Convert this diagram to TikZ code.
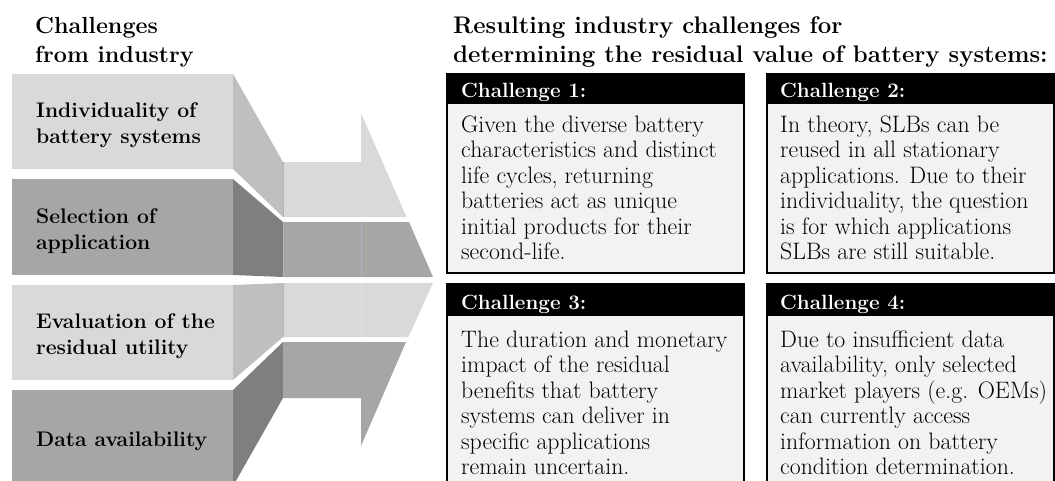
\documentclass[tikz,border=0pt]{standalone}
\usepackage{xcolor}
\definecolor{lightF}{HTML}{D9D9D9}
\definecolor{lightS}{HTML}{BFBFBF}
\definecolor{darkF}{HTML}{A6A6A6}
\definecolor{darkS}{HTML}{7F7F7F}
\definecolor{bodyF}{HTML}{F2F2F2}
\definecolor{seam}{HTML}{A9B6C4}
\begin{document}
\begin{tikzpicture}[x=1pt,y=-1pt,
  lab/.style={anchor=north west,inner sep=0pt,align=left,font=\fontsize{21.1}{26}\selectfont\bfseries},
  head/.style={anchor=north west,inner sep=0pt,align=left,font=\fontsize{23.3}{29}\selectfont\bfseries},
  chead/.style={anchor=north west,inner sep=0pt,text=white,font=\fontsize{20.6}{24}\selectfont\bfseries},
  cbody/.style={anchor=north west,inner sep=0pt,align=left,font=\fontsize{23.8}{25.5}\selectfont},
  bar/.style={fill=black},
  panel/.style={draw=black,line width=2.2pt,fill=bodyF},
  seamline/.style={draw=seam,line width=0.5pt}]
\useasboundingbox (0,0) rectangle (1055,480);
\begin{scope}
\clip (0,0) rectangle (1055,480);
% front faces
\fill[lightF] (12,74) rectangle (233,169);
\fill[darkF] (12,179) rectangle (233,275);
\fill[lightF] (12,285) rectangle (233,380);
\fill[darkF] (12,390) rectangle (233,486);
% side faces
\fill[lightS] (233,74) -- (283,162) -- (283,217) -- (233,169) -- cycle;
\fill[darkS] (233,179) -- (283,222) -- (283,277) -- (233,275) -- cycle;
\fill[lightS] (233,285) -- (283,283) -- (283,337) -- (233,380) -- cycle;
\fill[darkS] (233,390) -- (283,342) -- (283,398) -- (233,486) -- cycle;
% arrow strips
\fill[lightF] (283,162) -- (361,162) -- (361,113) -- (406.5,217) -- (283,217) -- cycle;
\fill[darkF] (283,222) -- (409,222) -- (433,277) -- (283,277) -- cycle;
\fill[lightF] (283,283) -- (433,283) -- (408.5,337) -- (283,337) -- cycle;
\fill[darkF] (283,342) -- (406,342) -- (361,446) -- (361,398) -- (283,398) -- cycle;
\draw[seamline] (361,222) -- (361,277);
\draw[seamline,draw=seam!40] (361,283) -- (361,337);
\draw[seamline] (283,162) -- (283,217);
\draw[seamline] (283,222) -- (283,277);
\draw[seamline] (283,283) -- (283,337);
% challenge panels
\fill[bar] (446,73) rectangle (745,103);
\draw[panel] (447.1,103) rectangle (743.9,273);
\fill[bar] (766,73) rectangle (1055,103);
\draw[panel] (767.1,103) rectangle (1053.9,273);
\fill[bar] (446,283) rectangle (745,315);
\draw[panel] (447.1,315) rectangle (743.9,500);
\fill[bar] (766,283) rectangle (1055,315);
\draw[panel] (767.1,315) rectangle (1053.9,500);
\end{scope}
% titles
\node[head] (t1) at (35,16.8) {Challenges\\from industry};
\node[head,font=\fontsize{24}{29}\selectfont\bfseries] (t2) at (453,16.4) {Resulting industry challenges for\\determining the residual value of battery systems:};
% left labels
\node[lab] (l1) at (36,102.4) {Individuality of\\battery systems};
\node[lab] (l2) at (36,208.7) {Selection of\\application};
\node[lab] (l3) at (36,313.7) {Evaluation of the\\residual utility};
\node[lab] (l4) at (36,431.4) {Data availability};
% challenge headers
\node[chead] (h1) at (461,82.7) {Challenge 1:};
\node[chead] (h2) at (780,82.7) {Challenge 2:};
\node[chead] (h3) at (461,294.7) {Challenge 3:};
\node[chead] (h4) at (780,294.7) {Challenge 4:};
% challenge bodies
\node[cbody] (b1) at (461,115.5) {Given the diverse battery\\characteristics and distinct\\life cycles, returning\\batteries act as unique\\initial products for their\\second-life.};
\node[cbody] (b2) at (780,115.5) {In theory, SLBs can be\\reused in all stationary\\applications. Due to their\\individuality, the question\\is for which applications\\SLBs are still suitable.};
\node[cbody] (b3) at (461,330.5) {The duration and monetary\\impact of the residual\\benefits that battery\\systems can deliver in\\specific applications\\remain uncertain.};
\node[cbody] (b4) at (780,330.5) {Due to insufficient data\\availability, only selected\\market players (e.g. OEMs)\\can currently access\\information on battery\\condition determination.};
\end{tikzpicture}
\end{document}
